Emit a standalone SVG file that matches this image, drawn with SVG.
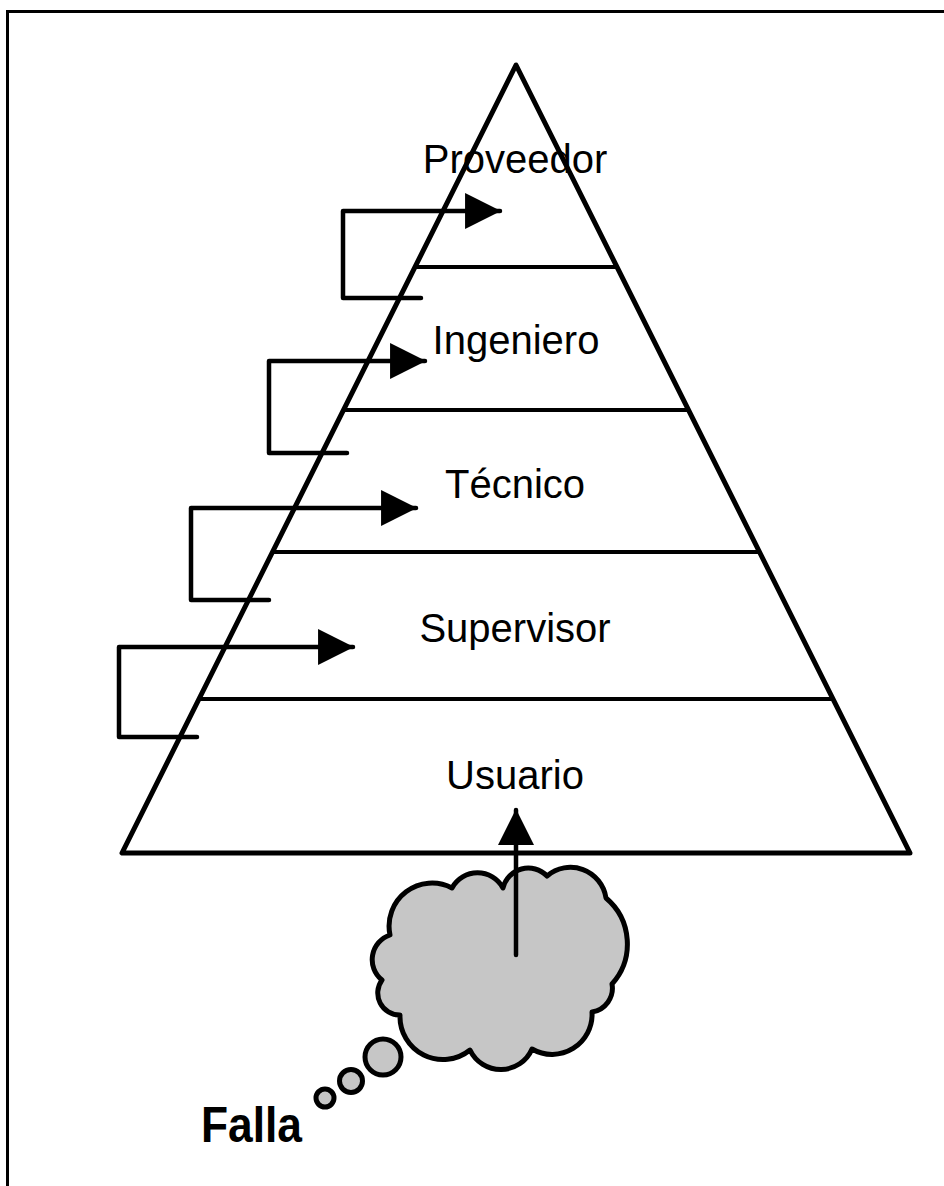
<svg xmlns="http://www.w3.org/2000/svg" width="944" height="1186" viewBox="0 0 944 1186">
  <defs>
    <style>
      .frame { fill: none; stroke: #000; stroke-width: 3; }
      .tri { fill: none; stroke: #000; stroke-width: 5; stroke-linejoin: round; }
      .divider { stroke: #000; stroke-width: 4; }
      .flow { fill: none; stroke: #000; stroke-width: 4.5; stroke-linejoin: round; stroke-linecap: round; }
      .label { font-family: "Liberation Sans", Arial, sans-serif; font-size: 40px; fill: #000; text-anchor: middle; }
      .cloud { fill: #c6c6c6; stroke: #000; stroke-width: 5; stroke-linejoin: round; }
      .fault { font-family: "Liberation Sans", Arial, sans-serif; font-weight: bold; font-size: 50px; fill: #000; }
    </style>
    <marker id="head" markerUnits="userSpaceOnUse" markerWidth="36" markerHeight="36" viewBox="0 0 34 34" refX="33" refY="17" orient="auto">
      <path d="M0,0 L34,17 L0,34 Z" fill="#000"/>
    </marker>
  </defs>

  <rect class="frame" x="7.5" y="11.5" width="1000" height="1300"/>

  <!-- pyramid of escalation levels -->
  <g id="pyramid">
    <path class="tri" d="M516,65 L122,853 L910,853 Z"/>
    <line class="divider" x1="415" y1="267" x2="617" y2="267"/>
    <line class="divider" x1="343" y1="410" x2="688" y2="410"/>
    <line class="divider" x1="272" y1="552" x2="760" y2="552"/>
    <line class="divider" x1="199" y1="699" x2="833" y2="699"/>
  </g>

  <g id="proveedor"><text class="label" x="515" y="173">Proveedor</text></g>
  <g id="ingeniero"><text class="label" x="516" y="354">Ingeniero</text></g>
  <g id="tecnico"><text class="label" x="515" y="498">Técnico</text></g>
  <g id="supervisor"><text class="label" x="515" y="642">Supervisor</text></g>
  <g id="usuario"><text class="label" x="515" y="789">Usuario</text></g>

  <!-- fault thought-cloud -->
  <g id="falla">
    <path class="cloud" d="M503,888
      A26,26 0 0 1 547,876
      A36,36 0 0 1 606,898
      A60,60 0 0 1 612,984
      A24,24 0 0 1 592,1012
      A40,40 0 0 1 532,1049
      A34,34 0 0 1 470,1050
      A43,43 0 0 1 400,1015
      A22,22 0 0 1 382,980
      A26,26 0 0 1 390,935
      A43,43 0 0 1 452,888
      A29,29 0 0 1 503,888 Z"/>
    <circle class="cloud" cx="383" cy="1057" r="18"/>
    <circle class="cloud" cx="351" cy="1081" r="11.5"/>
    <circle class="cloud" cx="325" cy="1098" r="9"/>
    <text class="fault" x="201" y="1142" textLength="101" lengthAdjust="spacingAndGlyphs">Falla</text>
  </g>

  <!-- escalation connectors -->
  <g id="connectors">
    <path class="flow" d="M516,955 V810" marker-end="url(#head)"/>
    <path class="flow" d="M421,298 H343 V211 H500" marker-end="url(#head)"/>
    <path class="flow" d="M347,453 H269 V361 H425" marker-end="url(#head)"/>
    <path class="flow" d="M269,600 H191 V508 H416" marker-end="url(#head)"/>
    <path class="flow" d="M197,737 H119 V647 H353" marker-end="url(#head)"/>
  </g>
</svg>
